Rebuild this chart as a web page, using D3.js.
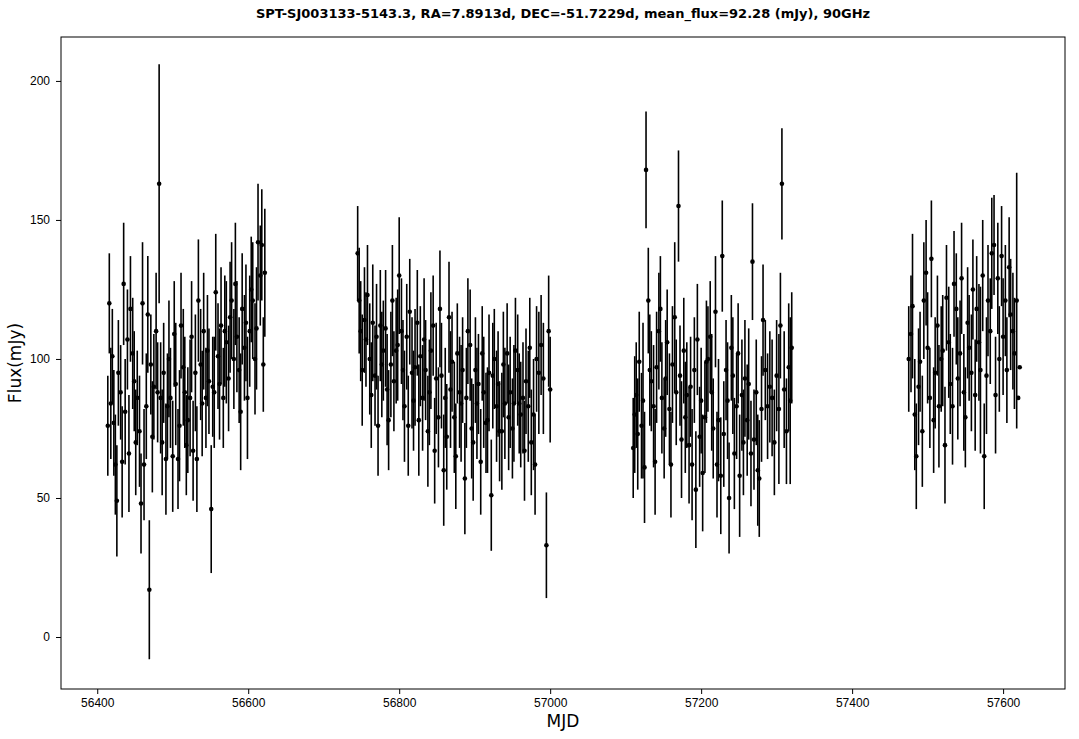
<!DOCTYPE html>
<html><head><meta charset="utf-8">
<script src="https://cdn.jsdelivr.net/npm/d3@7"></script>
<style>body{margin:0;background:#fff}svg{font-family:"DejaVu Sans",sans-serif}</style>
</head><body><svg id="c" width="1079" height="739"></svg>
<script>
const title = "SPT-SJ003133-5143.3, RA=7.8913d, DEC=-51.7229d, mean_flux=92.28 (mJy), 90GHz";
const xTicks = [56400, 56600, 56800, 57000, 57200, 57400, 57600];
const yTicks = [0, 50, 100, 150, 200];
const mjd = [
56414,56416,56418,56420,56422,56424,56426,56428,56431,56433,56435,56437,56440,56442,56444,56447,56449,56451,56453,56456,56458,56460,56462,56465,56467,56469,56471,56473,56475,56478,56480,56482,56484,56486,56488,56491,56493,56495,56497,56500,56502,56504,56507,56509,56511,56514,56516,56518,56520,56523,56525,56527,56530,56532,56534,56537,56539,56541,56544,56546,56548,56551,56553,56555,56557,56560,56562,56564,56567,56569,56571,56574,56576,56578,56581,56583,56585,56588,56590,56592,56595,56597,56599,56602,56604,56606,56609,56611,56613,56616,56618,56620,56622,
56745,56747,56749,56751,56754,56756,56758,56761,56763,56765,56768,56770,56772,56775,56777,56779,56782,56784,56786,56789,56791,56793,56796,56798,56800,56803,56805,56807,56810,56812,56814,56817,56819,56821,56824,56826,56828,56831,56833,56835,56838,56840,56842,56845,56847,56849,56852,56854,56856,56859,56861,56863,56866,56868,56870,56873,56875,56877,56880,56882,56884,56887,56889,56891,56894,56896,56898,56901,56903,56905,56908,56910,56912,56915,56917,56919,56922,56924,56926,56929,56931,56933,56936,56938,56940,56943,56945,56947,56950,56952,56954,56957,56959,56961,56964,56966,56968,56971,56973,56975,56978,56980,56982,56985,56988,56991,56995,56998,57000,
57110,57112,57114,57116,57118,57121,57123,57125,57127,57130,57132,57134,57137,57139,57141,57144,57146,57148,57151,57153,57155,57158,57160,57162,57165,57167,57170,57172,57174,57177,57179,57181,57184,57186,57188,57191,57193,57195,57198,57200,57202,57205,57207,57209,57212,57214,57216,57219,57221,57223,57226,57228,57230,57233,57235,57237,57240,57242,57244,57247,57249,57251,57254,57256,57258,57261,57263,57266,57268,57270,57273,57275,57277,57280,57282,57285,57288,57291,57294,57297,57300,57303,57305,57307,57310,57313,57316,57318,57320,
57475,57478,57480,57483,57485,57488,57490,57493,57495,57498,57500,57503,57505,57508,57510,57513,57515,57518,57520,57523,57525,57528,57530,57533,57535,57538,57540,57543,57545,57548,57550,57553,57555,57558,57560,57563,57565,57568,57570,57573,57575,57578,57580,57583,57585,57588,57590,57593,57595,57598,57600,57603,57605,57608,57610,57613,57615,57618,57620,57622];
const flux = [
76,120,84,101,77,62,49,95,88,63,127,81,107,66,118,102,92,70,86,74,48,120,62,83,116,17,98,72,90,110,88,163,86,70,95,64,83,100,86,65,109,91,64,76,112,97,88,69,78,86,108,67,95,64,121,98,84,110,86,103,92,46,90,88,124,101,91,112,86,110,106,93,115,121,100,127,108,96,81,118,104,113,86,110,125,121,100,111,142,130,141,98,131,
138,121,110,96,114,107,123,100,87,113,94,108,76,112,98,103,111,89,78,98,121,92,103,105,130,110,96,83,108,76,117,95,85,97,113,78,101,86,107,96,74,88,103,112,67,93,79,118,94,60,86,72,115,89,99,79,65,102,88,84,96,57,86,110,105,75,70,96,84,91,63,102,88,77,78,95,51,94,100,83,91,74,74,98,84,102,79,88,75,84,103,96,84,80,86,67,92,83,104,70,80,62,100,95,105,93,33,110,89,
68,80,87,73,99,76,85,61,168,121,96,92,83,63,97,110,118,86,75,93,106,82,62,98,115,88,155,94,71,103,79,87,69,90,62,96,53,107,72,85,59,79,99,100,108,88,75,117,62,78,58,137,73,96,85,50,104,94,66,83,102,58,87,70,93,78,91,66,135,71,88,60,57,82,114,96,83,90,86,70,94,82,112,163,89,74,97,85,104,
100,109,119,80,65,90,99,74,121,131,104,86,136,78,95,112,83,100,103,69,122,106,91,83,127,118,93,102,129,88,79,113,104,95,125,87,118,106,96,130,65,94,121,110,138,141,87,129,100,137,108,121,96,133,116,110,102,121,86,97];
const err = [
18,18,20,17,19,18,20,19,17,20,22,19,18,21,19,20,18,19,17,20,18,22,20,19,21,25,18,20,19,21,18,43,20,19,18,20,19,21,18,20,19,22,18,20,19,21,20,18,19,21,20,18,21,19,22,20,19,21,18,20,19,23,18,20,21,19,20,21,18,20,22,19,20,21,18,22,20,19,21,20,19,21,22,20,19,21,20,22,21,18,20,17,23,
17,19,18,20,19,17,18,20,19,21,18,19,18,20,19,18,21,20,18,19,20,18,19,20,21,19,18,20,19,18,19,20,18,21,19,20,18,19,22,18,20,19,21,18,19,20,18,21,19,20,18,19,20,21,18,20,19,18,20,21,19,20,18,19,20,18,21,19,20,18,19,17,20,18,19,21,20,19,18,20,19,18,21,19,20,18,19,20,18,21,19,20,18,19,20,18,19,20,18,19,20,18,19,22,18,20,19,
20,19,18,21,19,20,18,19,28,20,21,19,20,18,22,19,20,21,19,20,18,21,19,20,19,21,27,19,20,18,21,19,20,19,21,18,20,19,21,20,18,19,21,20,22,19,20,21,18,20,19,22,21,20,19,18,21,20,19,21,20,19,18,22,20,19,21,20,20,19,21,18,19,20,21,19,20,18,19,20,21,19,20,27,19,20,21,19,23,
30,20,19,21,26,20,19,21,18,20,21,19,20,18,21,19,20,18,22,19,20,21,19,20,18,21,19,20,22,19,20,21,18,20,19,21,18,20,19,21,30,20,19,21,20,19,20,18,21,20,19,18,21,20,19,18,20,21,20,46];

const svg = d3.select("#c");
const m = {l:61, r:1065, t:37, b:689};
const x = d3.scaleLinear().domain([56352, 57682]).range([m.l, m.r]);
const y = d3.scaleLinear().domain([-18.7, 215.8]).range([m.b, m.t]);

svg.append("rect").attr("x",m.l).attr("y",m.t).attr("width",m.r-m.l).attr("height",m.b-m.t)
  .attr("fill","none").attr("stroke","#000").attr("stroke-width",1);

const xa = svg.append("g").attr("transform",`translate(0,${m.b})`)
  .call(d3.axisBottom(x).tickValues(xTicks).tickFormat(d3.format("d")).tickSize(5).tickPadding(4));
const ya = svg.append("g").attr("transform",`translate(${m.l},0)`)
  .call(d3.axisLeft(y).tickValues(yTicks).tickSize(5).tickPadding(6));
[xa,ya].forEach(a=>{a.select(".domain").remove();a.selectAll("text").attr("font-size",12).attr("fill","#000");a.selectAll("line").attr("stroke","#000");});

const pts = mjd.map((d,i)=>({x:d,f:flux[i],e:err[i]}));
svg.append("g").selectAll("line").data(pts).join("line")
  .attr("x1",d=>x(d.x)).attr("x2",d=>x(d.x))
  .attr("y1",d=>y(d.f-d.e)).attr("y2",d=>y(d.f+d.e))
  .attr("stroke","#000").attr("stroke-width",1.6);
svg.append("g").selectAll("circle").data(pts).join("circle")
  .attr("cx",d=>x(d.x)).attr("cy",d=>y(d.f)).attr("r",2.3).attr("fill","#000");

svg.append("text").attr("x",563).attr("y",18).attr("text-anchor","middle")
  .attr("font-size",13).attr("font-weight","bold").text(title);
svg.append("text").attr("x",563).attr("y",727).attr("text-anchor","middle").attr("font-size",17).text("MJD");
svg.append("text").attr("transform","translate(21,363) rotate(-90)").attr("text-anchor","middle").attr("font-size",17).text("Flux(mJy)");
</script></body></html>
